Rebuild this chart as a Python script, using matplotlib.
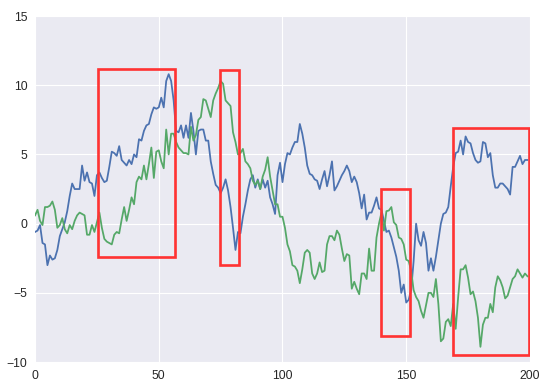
import matplotlib
matplotlib.use("Agg")
import matplotlib.pyplot as plt
from matplotlib.patches import Rectangle

# two walks, x = 0..199
blue = [
    -0.6, -0.5, -0.1, -1.4, -1.5, -3.0, -2.3, -2.6, -2.5, -1.9,
    -0.9, -0.4, 0.1, 0.9, 2.0, 2.9, 2.5, 2.5, 2.5, 4.2,
    3.1, 3.7, 3.0, 2.9, 2.0, 3.5, 3.7, 3.3, 3.0, 3.1,
    4.1, 5.2, 5.1, 4.9, 5.6, 4.6, 4.4, 4.2, 4.6, 4.3,
    5.0, 4.8, 6.1, 6.0, 6.7, 7.1, 7.2, 7.9, 8.4, 8.3,
    8.4, 9.1, 8.4, 10.3, 10.8, 10.3, 8.9, 6.7, 6.6, 7.1,
    6.2, 7.1, 6.2, 8.0, 6.7, 5.0, 6.7, 6.8, 6.8, 6.0,
    6.0, 4.5, 3.6, 2.8, 2.6, 2.2, 2.6, 3.2, 2.4, 1.2,
    -0.3, -1.9, -0.6, -0.7, 0.5, 1.4, 2.4, 3.2, 3.5, 2.6,
    3.2, 2.5, 3.2, 2.6, 3.1, 1.9, 1.4, 0.7, 3.5, 4.4,
    3.0, 4.3, 5.1, 5.0, 5.5, 5.9, 5.9, 7.2, 6.5, 5.5,
    4.2, 3.6, 3.5, 3.2, 3.1, 2.5, 3.2, 3.8, 2.7, 3.5,
    4.5, 2.4, 2.7, 3.1, 3.5, 3.8, 4.2, 3.8, 3.0, 3.4,
    3.0, 2.2, 1.1, 2.1, 0.3, 0.8, 0.8, 1.3, 1.9, 1.1,
    1.0, 0.2, -0.6, -0.5, -1.0, -1.7, -2.4, -3.4, -5.0, -4.4,
    -5.7, -5.5, -4.8, -2.7, 0.0, -1.2, -1.6, -0.6, -1.4, -3.4,
    -2.5, -3.4, -2.4, -1.2, 0.0, 0.7, 0.8, 1.2, 2.7, 4.1,
    5.1, 5.2, 6.0, 5.0, 6.3, 5.9, 5.8, 5.1, 4.6, 4.4,
    4.5, 5.9, 5.8, 4.8, 5.1, 3.5, 2.6, 2.6, 2.9, 2.9,
    2.7, 2.5, 2.1, 4.1, 4.1, 4.5, 4.9, 4.3, 4.6, 4.6,
]
green = [
    0.6, 1.0, 0.2, -0.1, 1.2, 1.2, 1.3, 1.6, 1.0, -0.3,
    -0.1, 0.4, -0.4, -0.7, -0.1, -0.4, 0.2, 0.6, 0.8, 0.7,
    0.6, -0.8, -0.8, -0.1, -0.6, 0.1, 0.8, -0.3, -1.1, -1.3,
    -1.4, -1.5, -0.8, -0.6, -0.7, 0.3, 1.2, 0.2, 1.0, 1.9,
    1.4, 3.0, 3.4, 3.2, 4.2, 3.2, 4.3, 5.5, 3.3, 5.2,
    5.3, 4.5, 4.0, 6.8, 5.0, 6.5, 6.5, 5.9, 5.5, 5.3,
    5.1, 5.1, 5.0, 7.0, 6.0, 6.4, 7.5, 7.7, 9.0, 8.9,
    8.3, 7.7, 8.9, 9.4, 9.8, 10.3, 10.1, 8.9, 8.7, 8.5,
    6.6, 5.9, 5.0, 5.1, 5.4, 4.5, 4.3, 4.0, 3.1, 2.8,
    3.1, 2.5, 3.4, 3.9, 4.8, 3.4, 2.4, 1.4, 1.4, 0.5,
    0.5, -0.3, -1.5, -2.0, -3.0, -3.1, -3.4, -4.3, -3.3, -2.1,
    -1.9, -2.1, -3.6, -4.0, -3.6, -2.8, -3.5, -3.4, -1.5, -0.9,
    -0.9, -1.2, -0.5, -0.8, -1.8, -2.7, -2.2, -2.3, -4.7, -4.2,
    -4.7, -5.1, -3.6, -3.6, -4.0, -1.8, -3.4, -3.4, -1.0, 0.0,
    0.8, -0.5, 0.9, 0.95, 1.2, 0.1, -0.1, -1.0, -1.1, -1.5,
    -2.6, -2.7, -3.4, -4.8, -5.3, -5.6, -6.3, -6.8, -5.9, -5.0,
    -5.0, -5.3, -4.0, -5.8, -8.5, -8.3, -7.1, -6.9, -7.4, -5.8,
    -7.6, -5.3, -3.3, -3.3, -3.0, -3.9, -5.1, -4.9, -5.6, -6.8,
    -8.9, -7.3, -6.8, -6.8, -5.8, -6.4, -4.6, -3.8, -4.1, -4.6,
    -5.4, -5.2, -4.6, -4.0, -3.8, -3.3, -3.6, -3.9, -3.6, -3.8,
]

# highlight boxes: (x0, y0, x1, y1) in data units
boxes = [
    (25.5, -2.4, 56.5, 11.2),
    (74.7, -3.0, 82.4, 11.1),
    (139.8, -8.1, 151.5, 2.5),
    (168.9, -9.5, 199.6, 6.9),
]

plt.rcParams['font.family'] = ['Liberation Sans', 'DejaVu Sans']

fig = plt.figure(figsize=(6.85, 4.8875), dpi=80)
ax = fig.add_axes([0.064, 0.074, 0.903, 0.885])
ax.set_facecolor('#EAEAF2')
for s in ax.spines.values():
    s.set_visible(False)
ax.grid(True, color='white', linewidth=1)
ax.set_axisbelow(True)

xs = list(range(len(blue)))
ax.plot(xs, blue, color='#4C72B0', linewidth=1.6)
ax.plot(xs, green, color='#55A868', linewidth=1.6)

for x0, y0, x1, y1 in boxes:
    ax.add_patch(Rectangle((x0, y0), x1 - x0, y1 - y0, fill=False,
                           edgecolor='#FF3333', linewidth=2.4, zorder=5))

ax.set_xlim(0, 200)
ax.set_ylim(-10, 15)
ax.set_xticks([0, 50, 100, 150, 200])
ax.set_yticks([-10, -5, 0, 5, 10, 15])
ax.tick_params(length=0, labelsize=11, colors='#262626', pad=7)

fig.savefig('out.png', dpi=80)
